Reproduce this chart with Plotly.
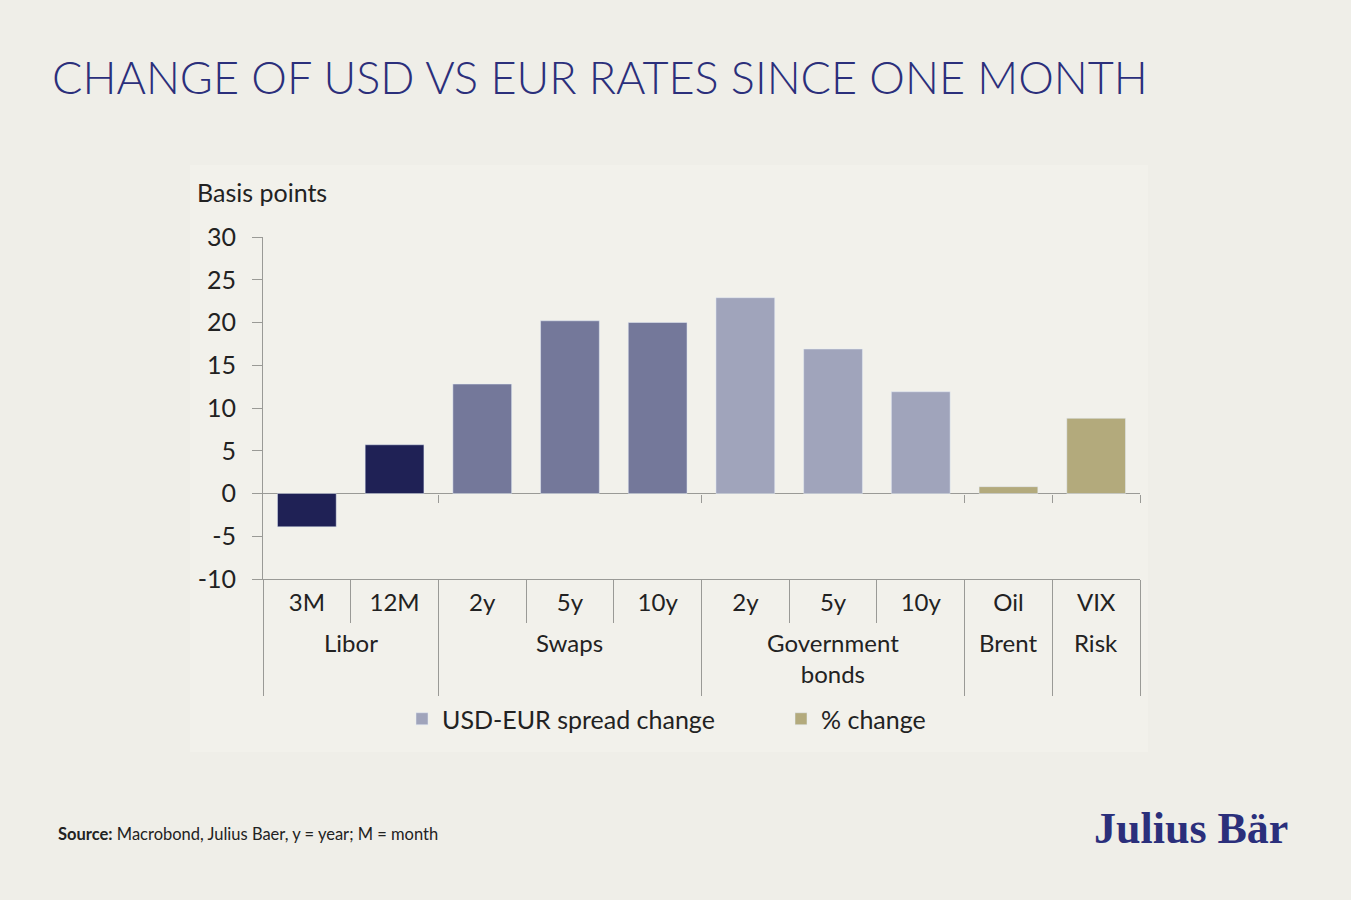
"""Change of USD vs EUR rates since one month - bar chart with grouped categories."""
import plotly.graph_objects as go

# ---------------------------------------------------------------------------
# Data (basis points; Oil / VIX are % change)
# ---------------------------------------------------------------------------
libor_group = "Libor"
libor_labels = ["3M", "12M"]
libor_values = [-3.9, 5.7]

swaps_group = "Swaps"
swaps_labels = ["2y", "5y", "10y"]
swaps_values = [12.8, 20.2, 20.0]

govt_group = "Government<br>bonds"
govt_labels = ["2y", "5y", "10y"]
govt_values = [22.9, 16.9, 11.9]

oil_group = "Brent"
oil_labels = ["Oil"]
oil_values = [0.8]

vix_group = "Risk"
vix_labels = ["VIX"]
vix_values = [8.8]

y_range = [-10, 30]
y_ticks = [-10, -5, 0, 5, 10, 15, 20, 25, 30]

# ---------------------------------------------------------------------------
# Styling
# ---------------------------------------------------------------------------
BG = "#efeee8"
PANEL = "#f2f1eb"
NAVY = "#1f2155"
SWAPS = "#74789a"
GOVT = "#a0a4bb"
OLIVE = "#b3aa7c"
TITLE = "#2b2f7b"
AXIS = "#9a9a96"
TEXT = "#222222"
FONT = "Lato"

W, H = 1351, 900
L, R, T, B = 263, 1140, 237, 579  # plot area in pixels
pw, ph = R - L, B - T


def px(x):
    return (x - L) / pw


def py(y):
    return (B - y) / ph


# category positions follow from the group sizes
groups = [
    (libor_group, libor_labels, libor_values, NAVY, None),
    (swaps_group, swaps_labels, swaps_values, SWAPS, None),
    (govt_group, govt_labels, govt_values, GOVT, "USD-EUR spread change"),
    (oil_group, oil_labels, oil_values, OLIVE, "% change"),
    (vix_group, vix_labels, vix_values, OLIVE, None),
]

fig = go.Figure()
all_labels, centers, bounds = [], [], [-0.5]
pos = 0
for gname, labels, values, color, legend_name in groups:
    xs = list(range(pos, pos + len(labels)))
    fig.add_trace(go.Bar(x=xs, y=values, marker_color=color,
                         name=legend_name or gname, showlegend=legend_name is not None))
    all_labels += labels
    centers.append((xs[0] + xs[-1]) / 2)
    pos += len(labels)
    bounds.append(pos - 0.5)

n_cat = pos
x_range = [-0.5, n_cat - 0.5]
all_bounds = [i - 0.5 for i in range(n_cat + 1)]
zero_pos = (0 - y_range[0]) / (y_range[1] - y_range[0])

# helper traces so the overlay axes get drawn
for ax in ("x2", "x3"):
    fig.add_trace(go.Scatter(x=bounds, y=[0] * len(bounds), xaxis=ax, mode="none",
                             showlegend=False, hoverinfo="skip"))

fig.update_layout(
    width=W, height=H,
    paper_bgcolor=BG, plot_bgcolor="rgba(0,0,0,0)",
    margin=dict(l=L, r=W - R, t=T, b=H - B),
    barmode="relative", bargap=0.33,
    font=dict(family=FONT, color=TEXT, size=24),
    title=dict(text="CHANGE OF USD VS EUR RATES SINCE ONE MONTH",
               font=dict(family=FONT, size=45, color=TITLE, weight=300),
               xref="container", yref="container", x=52 / W, y=1 - 78 / H,
               xanchor="left", yanchor="middle"),
    xaxis=dict(range=x_range, tickvals=list(range(n_cat)), ticktext=all_labels,
               showline=True, linecolor=AXIS, linewidth=1, ticks="",
               ticklabelstandoff=2, tickfont=dict(size=24, color=TEXT),
               showgrid=False, zeroline=False,
               minor=dict(tickvals=all_bounds, ticks="outside", ticklen=43,
                          tickcolor=AXIS, showgrid=False)),
    # group dividers below the axis
    xaxis2=dict(overlaying="x", anchor="free", position=0, range=x_range,
                showline=False, showgrid=False, zeroline=False, ticks="outside",
                tickvals=bounds, ticklen=116, tickcolor=AXIS, showticklabels=False),
    # small ticks on the zero line
    xaxis3=dict(overlaying="x", anchor="free", position=zero_pos, range=x_range,
                showline=False, showgrid=False, zeroline=False, ticks="outside",
                tickvals=bounds[1:], ticklen=8, tickcolor=AXIS, showticklabels=False),
    yaxis=dict(range=y_range, tickvals=y_ticks, ticktext=[str(v) for v in y_ticks],
               showline=True, linecolor=AXIS,
               ticks="outside", ticklen=10, tickcolor=AXIS, showgrid=False,
               zeroline=True, zerolinecolor=AXIS, zerolinewidth=1,
               ticklabelstandoff=11, tickfont=dict(size=25, color=TEXT)),
    legend=dict(orientation="h", x=px(402), y=py(719), xanchor="left", yanchor="middle",
                font=dict(size=25, color=TEXT), bgcolor="rgba(0,0,0,0)",
                itemwidth=30, entrywidth=334, entrywidthmode="pixels"),
    shapes=[dict(type="rect", xref="paper", yref="paper", layer="below",
                 x0=px(190), x1=px(1148), y0=py(752), y1=py(165),
                 fillcolor=PANEL, line=dict(width=0))],
    annotations=[
        dict(text="Basis points", xref="paper", yref="paper", x=px(195), y=py(192),
             xanchor="left", yanchor="middle", showarrow=False, font=dict(size=25, color=TEXT)),
        dict(text="<b>Source:</b> Macrobond, Julius Baer, y = year; M = month",
             xref="paper", yref="paper", x=px(56), y=py(834), xanchor="left", yanchor="middle",
             showarrow=False, font=dict(size=16.5, color=TEXT)),
        dict(text="<b>Julius Bär</b>", xref="paper", yref="paper", x=px(1290), y=py(828),
             xanchor="right", yanchor="middle", showarrow=False,
             font=dict(family="Liberation Serif", size=44, color=TITLE)),
    ] + [
        dict(text=g[0], x=c, xref="x", yref="paper", y=py(626), xanchor="center",
             yanchor="top", showarrow=False, font=dict(size=24, color=TEXT))
        for g, c in zip(groups, centers)
    ],
)

fig.write_html("out.html", config={"displayModeBar": False},
               post_script="document.body.style.margin='0';")
